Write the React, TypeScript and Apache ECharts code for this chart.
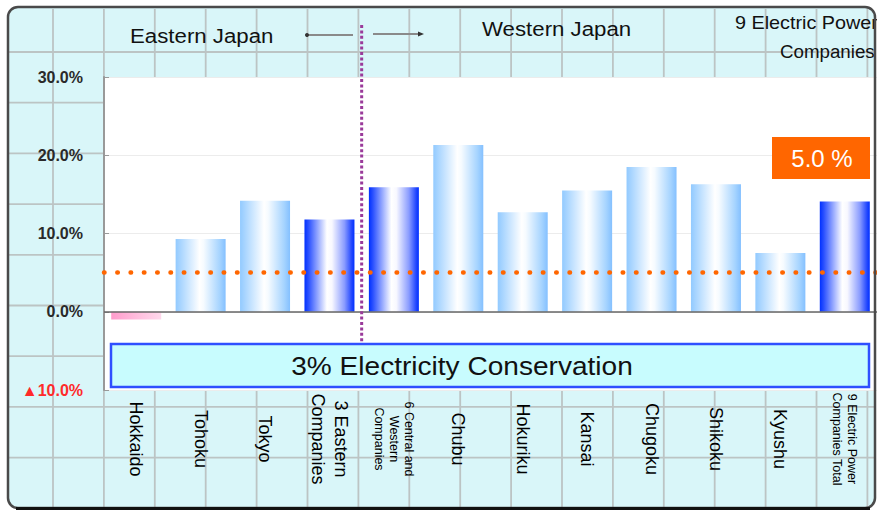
import React, { useEffect, useRef } from "react";
import * as echarts from "echarts";

const categories = [
  "Hokkaido",
  "Tohoku",
  "Tokyo",
  "3 Eastern\nCompanies",
  "6 Central and\nWestern\nCompanies",
  "Chubu",
  "Hokuriku",
  "Kansai",
  "Chugoku",
  "Shikoku",
  "Kyushu",
  "9 Electric Power\nCompanies Total",
];
const reserveMargin = [-1.0, 9.3, 14.2, 11.8, 15.9, 21.3, 12.7, 15.5, 18.5, 16.3, 7.5, 14.1];
const subtotalCategories = ["3 Eastern\nCompanies", "6 Central and\nWestern\nCompanies", "9 Electric Power\nCompanies Total"];
const smallLabelCategories = ["6 Central and\nWestern\nCompanies", "9 Electric Power\nCompanies Total"];
const targetMargin = 5.0;
const targetLabel = "5.0 %";
const yMin = -10;
const yMax = 30;
const yStep = 10;
const regionEast = "Eastern Japan";
const regionWest = "Western Japan";
const regionTotal = ["9 Electric Power", "Companies"];
const conservationLabel = "3% Electricity Conservation";

const FONT = '"Liberation Sans", Arial, sans-serif';

function barColor(name: string, value: number) {
  if (value < 0) {
    return new echarts.graphic.LinearGradient(0, 0, 1, 0, [
      { offset: 0, color: "#ff9ccc" },
      { offset: 0.5, color: "#ffbcdc" },
      { offset: 1, color: "#ffd8ec" },
    ]);
  }
  if (subtotalCategories.includes(name)) {
    return new echarts.graphic.LinearGradient(0, 0, 1, 0, [
      { offset: 0, color: "#0030ff" },
      { offset: 0.08, color: "#2a50ff" },
      { offset: 0.45, color: "#ffffff" },
      { offset: 0.55, color: "#f8f8ff" },
      { offset: 0.8, color: "#8a9cff" },
      { offset: 0.95, color: "#1e44ff" },
      { offset: 1, color: "#0030ff" },
    ]);
  }
  return new echarts.graphic.LinearGradient(0, 0, 1, 0, [
    { offset: 0, color: "#92caff" },
    { offset: 0.48, color: "#ffffff" },
    { offset: 0.56, color: "#f6fbff" },
    { offset: 0.88, color: "#a6d4ff" },
    { offset: 1, color: "#84c0ff" },
  ]);
}

export default function App() {
  const ref = useRef<HTMLDivElement>(null);

  useEffect(() => {
    if (!ref.current) return;
    const chart = echarts.init(ref.current, undefined, { renderer: "svg" });

    const option: any = {
      animation: false,
      textStyle: { fontFamily: FONT },
      grid: { left: 104, right: 0, top: 77, bottom: 122, containLabel: false },
      xAxis: {
        type: "category",
        data: categories,
        axisLine: { show: false },
        axisTick: { show: false },
        splitLine: { show: false },
        axisLabel: {
          interval: 0,
          rotate: -90,
          align: "center",
          verticalAlign: "middle",
          margin: 49,
          color: "#000",
          fontFamily: FONT,
          fontSize: 18,
          lineHeight: 23,
          formatter: (v: string) =>
            smallLabelCategories.includes(v)
              ? v.split("\n").map((l) => `{s|${l}}`).join("\n")
              : v,
          rich: {
            s: { fontSize: 12.5, lineHeight: 15, color: "#000", fontFamily: FONT, align: "center" },
          },
        },
      },
      yAxis: {
        type: "value",
        min: yMin,
        max: yMax,
        interval: yStep,
        axisLine: { show: true, lineStyle: { color: "#999", width: 2 } },
        axisTick: { show: true, inside: true, length: 5, lineStyle: { color: "#999" } },
        splitLine: { show: true, lineStyle: { color: "#ececec", width: 1 } },
        axisLabel: {
          margin: 21,
          color: "#2a2a2a",
          fontWeight: "bold",
          fontSize: 16,
          fontFamily: FONT,
          formatter: (v: number) =>
            v < 0 ? `{neg|▲${Math.abs(v).toFixed(1)}%}` : `${v.toFixed(1)}%`,
          rich: {
            neg: { color: "#ff2a2a", fontWeight: "bold", fontSize: 16, fontFamily: FONT },
          },
        },
      },
      series: [
        {
          type: "bar",
          barWidth: 50,
          z: 2,
          emphasis: { disabled: true },
          data: reserveMargin.map((v, i) => ({
            value: v,
            itemStyle: { color: barColor(categories[i], v) },
          })),
          markLine: {
            silent: true,
            symbol: "none",
            label: { show: false },
            data: [
              { yAxis: 0, lineStyle: { color: "#666", width: 1.5, type: "solid" } },
              {
                yAxis: targetMargin,
                lineStyle: { color: "#ff6600", width: 4.5, type: [0.5, 12.8], cap: "round" },
              },
            ],
          },
        },
      ],
    };
    chart.setOption(option);

    const xa = chart.convertToPixel({ xAxisIndex: 0 }, 3) as number;
    const xb = chart.convertToPixel({ xAxisIndex: 0 }, 4) as number;
    const divX = (xa + xb) / 2;
    const yTop = chart.convertToPixel({ yAxisIndex: 0 }, yMax) as number;
    const yBot = chart.convertToPixel({ yAxisIndex: 0 }, yMin) as number;
    const xLeft = (chart.convertToPixel({ xAxisIndex: 0 }, 0) as number) - 32.2;

    const bg: any[] = [];
    bg.push({
      type: "rect",
      z: -20,
      shape: { x: 8, y: 7, width: 867, height: 501, r: 10 },
      style: { fill: "#d9f6f9", stroke: "none" },
    });
    for (let k = 0; k <= 16; k++) {
      const x = 53 + 50.9 * k;
      bg.push({
        type: "line",
        z: -19,
        shape: { x1: x, y1: 9, x2: x, y2: 507 },
        style: { stroke: "#bcc4c4", lineWidth: 1.8 },
      });
    }
    for (let j = 0; j <= 8; j++) {
      const y = 52 + 50.7 * j;
      bg.push({
        type: "line",
        z: -19,
        shape: { x1: 9, y1: y, x2: 874, y2: y },
        style: { stroke: "#bcc4c4", lineWidth: 1.8 },
      });
    }
    bg.push({
      type: "rect",
      z: -18,
      shape: { x: xLeft, y: yTop, width: 877 - xLeft, height: yBot - yTop },
      style: { fill: "#ffffff" },
    });
    // frame
    bg.push({
      type: "rect",
      z: 60,
      shape: { x: 8, y: 7, width: 867, height: 501, r: 10 },
      style: { fill: "none", stroke: "#4a4a4a", lineWidth: 2.5 },
    });
    bg.push({
      type: "line",
      z: 61,
      shape: { x1: 16, y1: 508.5, x2: 870, y2: 508.5 },
      style: { stroke: "#111", lineWidth: 3 },
    });
    // division dotted line
    bg.push({
      type: "line",
      z: 40,
      shape: { x1: divX, y1: 25, x2: divX, y2: 342 },
      style: { stroke: "#9a3a9a", lineWidth: 3, lineDash: [3, 2.4] },
    });
    // arrows
    bg.push({
      type: "line",
      z: 40,
      shape: { x1: 308, y1: 35, x2: 353, y2: 35 },
      style: { stroke: "#8a8a8a", lineWidth: 2 },
    });
    bg.push({
      type: "circle",
      z: 41,
      shape: { cx: 307, cy: 35, r: 2 },
      style: { fill: "#333" },
    });
    bg.push({
      type: "line",
      z: 40,
      shape: { x1: 373, y1: 34, x2: 419, y2: 34 },
      style: { stroke: "#8a8a8a", lineWidth: 2 },
    });
    bg.push({
      type: "polygon",
      z: 41,
      shape: { points: [[424, 34], [418, 31.5], [418, 36.5]] },
      style: { fill: "#333" },
    });
    // region labels
    bg.push({
      type: "text",
      z: 45,
      x: 130,
      y: 36,
      scaleX: 1.06,
      style: { text: regionEast, fill: "#111", font: `21px ${FONT}`, align: "left", verticalAlign: "middle" },
    });
    bg.push({
      type: "text",
      z: 45,
      x: 482,
      y: 29,
      scaleX: 1.06,
      style: { text: regionWest, fill: "#111", font: `21px ${FONT}`, align: "left", verticalAlign: "middle" },
    });
    bg.push({
      type: "text",
      z: 45,
      x: 735,
      y: 23,
      scaleX: 1.1,
      style: { text: regionTotal[0], fill: "#111", font: `18px ${FONT}`, align: "left", verticalAlign: "middle" },
    });
    bg.push({
      type: "text",
      z: 45,
      x: 780,
      y: 52,
      scaleX: 1.04,
      style: { text: regionTotal[1], fill: "#111", font: `18px ${FONT}`, align: "left", verticalAlign: "middle" },
    });
    // 5.0% box
    bg.push({
      type: "rect",
      z: 45,
      shape: { x: 772, y: 137, width: 98, height: 42 },
      style: { fill: "#ff6600" },
    });
    bg.push({
      type: "text",
      z: 46,
      x: 822,
      y: 158,
      style: { text: targetLabel, fill: "#fff", font: `24px ${FONT}`, align: "center", verticalAlign: "middle" },
    });
    // conservation box
    bg.push({
      type: "rect",
      z: 45,
      shape: { x: 111, y: 344, width: 758, height: 43 },
      style: { fill: "#c8fcfe", stroke: "#2f4fff", lineWidth: 2.5 },
    });
    bg.push({
      type: "text",
      z: 46,
      x: 462,
      y: 366,
      scaleX: 1.08,
      style: { text: conservationLabel, fill: "#111", font: `26px ${FONT}`, align: "center", verticalAlign: "middle" },
    });

    chart.setOption({ graphic: { elements: bg } });

    return () => chart.dispose();
  }, []);

  return (
    <div
      ref={ref}
      style={{ position: "fixed", left: 0, top: 0, width: 877, height: 512, background: "#fff" }}
    />
  );
}
